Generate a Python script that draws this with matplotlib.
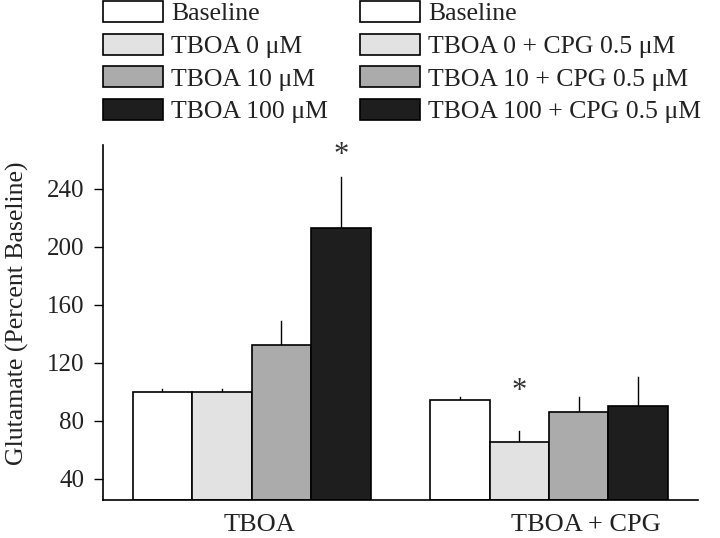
import numpy as np
import matplotlib.pyplot as plt
from matplotlib.patches import Patch

plt.rcParams['font.family'] = ['Liberation Serif', 'DejaVu Serif']

groups = ["TBOA", "TBOA + CPG"]
labels_tboa = ["Baseline", "TBOA 0 \u03bcM", "TBOA 10 \u03bcM", "TBOA 100 \u03bcM"]
labels_cpg = ["Baseline", "TBOA 0 + CPG 0.5 \u03bcM", "TBOA 10 + CPG 0.5 \u03bcM",
              "TBOA 100 + CPG 0.5 \u03bcM"]
tboa_vals = [100, 100, 132, 213]
tboa_err = [1.5, 1.5, 17, 35]
cpg_vals = [94, 65, 86, 90]
cpg_err = [2, 8, 10, 20]
colors = ["white", "#e2e2e2", "#ababab", "#1e1e1e"]
# significance stars: (group, bar index, y of the mark's base)
stars = [(0, 3, 253), (1, 1, 90)]

fig = plt.figure(figsize=(7.2, 5.38), dpi=100)
ax = fig.add_axes([0.143, 0.07, 0.826, 0.66])

w = 0.2
offsets = (np.arange(4) - 1.5) * w
for gi, (vals, err) in enumerate([(tboa_vals, tboa_err), (cpg_vals, cpg_err)]):
    for i in range(4):
        ax.bar(gi + offsets[i], vals[i] - 25, bottom=25, width=w, color=colors[i],
               edgecolor="black", linewidth=1.2, zorder=2)
        ax.plot([gi + offsets[i]] * 2, [vals[i], vals[i] + err[i]], color="black",
                lw=1.0, zorder=1)

for gi, bi, ys in stars:
    ax.text(gi + offsets[bi], ys, "*", ha="center", va="bottom", fontsize=22,
            color="#333333")

ax.set_xlim(-0.5, 1.5)
ax.set_ylim(25, 270)
ax.set_yticks([40, 80, 120, 160, 200, 240])
# group labels sit a little right of the group centres in the original
ax.set_xticks([0.025, 1.125])
ax.set_xticklabels(groups)
ax.tick_params(axis="x", length=0, pad=10, labelsize=19, labelcolor="#222222")
ax.tick_params(axis="y", direction="out", length=6.5, width=1, labelsize=18, pad=7,
               labelcolor="#222222")
ax.spines["top"].set_visible(False)
ax.spines["right"].set_visible(False)
ax.spines["left"].set_linewidth(1.2)
ax.spines["bottom"].set_linewidth(1.2)
ax.set_ylabel("Glutamate (Percent Baseline)", fontsize=18.5, color="#222222")
ax.yaxis.set_label_coords(-0.125, 0.527)

handles = [Patch(facecolor=c, edgecolor="black", linewidth=1.2) for c in colors]
for x0, labs in [(0.143, labels_tboa), (0.5, labels_cpg)]:
    fig.legend(handles, labs, loc="upper left", bbox_to_anchor=(x0, 0.998),
               frameon=False, fontsize=18.5, handlelength=2.35, handleheight=0.88,
               labelspacing=0.32, handletextpad=0.3, borderpad=0, borderaxespad=0,
               labelcolor="#222222")

fig.savefig("out.png", dpi=100)
